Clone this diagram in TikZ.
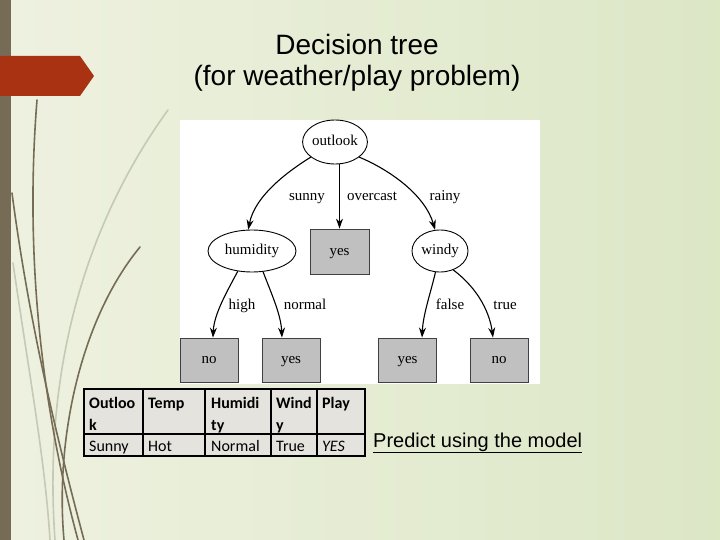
\documentclass[tikz,border=0pt]{standalone}
\usepackage{fontspec}
\setmainfont{Liberation Sans}
\newfontfamily\treefont{Liberation Serif}
\newfontfamily\tabfont{Carlito}
\usetikzlibrary{shapes.geometric,arrows.meta}
\definecolor{barcol}{RGB}{118,108,85}
\definecolor{redcol}{RGB}{168,50,18}
\definecolor{bgL}{RGB}{238,241,224}
\definecolor{bgR}{RGB}{220,231,198}
\definecolor{grasslight}{RGB}{196,202,180}
\definecolor{leafgray}{RGB}{192,192,192}
\definecolor{cellgray}{RGB}{229,227,221}
\tikzset{
  treetext/.style={font=\treefont\fontsize{15}{18}\selectfont,text height=10pt,text depth=3pt},
  inner/.style={ellipse,draw=black,line width=0.9pt,fill=white,inner sep=0pt,treetext},
  leaf/.style={rectangle,draw=black!75,line width=0.8pt,fill=leafgray,inner sep=0pt,minimum width=58pt,minimum height=44pt,treetext},
  lbl/.style={inner sep=0pt,treetext},
  edge/.style={draw=black,line width=1.1pt,-{Stealth[length=10pt,width=7pt]}},
  grassdark/.style={draw=barcol,line width=1.6pt,line cap=round},
  grasslt/.style={draw=grasslight,line width=1.6pt,line cap=round},
  hdr/.style={anchor=base west,inner sep=0pt,font=\tabfont\bfseries\fontsize{16}{22}\selectfont},
  cell/.style={anchor=base west,inner sep=0pt,font=\tabfont\fontsize{16}{18}\selectfont},
  title/.style={inner sep=0pt,font=\fontsize{28}{32}\selectfont}
}
\begin{document}
\begin{tikzpicture}[x=1pt,y=-1pt]
\useasboundingbox (0,0) rectangle (720,540);
% background
\shade[left color=bgL,right color=bgR] (0,0) rectangle (720,540);
\fill[barcol] (0,0) rectangle (11,540);
% grass
\draw[grasslt] (168,110) .. controls (110,190) and (40,330) .. (55,540);
\draw[grasslt] (13,263) .. controls (30,380) and (45,460) .. (50,540);
\draw[grassdark] (37,100) .. controls (25,250) and (40,400) .. (78,540);
\draw[grassdark] (12,193) .. controls (30,330) and (60,450) .. (84,540);
\draw[grassdark] (140,247) .. controls (80,320) and (55,440) .. (64,540);
% red arrow
\fill[redcol] (0,56) -- (80,56) -- (94,76) -- (80,96) -- (0,96) -- cycle;
% title
\node[title] (t1) at (357,44) {Decision tree};
\node[title] (t2) at (357,78) {(for weather/play problem)};
% tree picture
\fill[white] (180,120) rectangle (540,384);
\node[inner,minimum width=62pt,minimum height=44pt] (o) at (335,142) {outlook};
\node[inner,minimum width=88pt,minimum height=42pt] (h) at (252,251) {humidity};
\node[inner,minimum width=56pt,minimum height=42pt] (w) at (440,251) {windy};
\node[leaf,minimum width=59pt,minimum height=45pt] (y1) at (339.5,251.5) {yes};
\node[leaf] (n1) at (209,360) {no};
\node[leaf] (y2) at (291,360) {yes};
\node[leaf] (y3) at (407.5,360) {yes};
\node[leaf] (n2) at (499,360) {no};
\node[lbl] (lsunny) at (307,197) {sunny};
\node[lbl] (lover) at (372,197) {overcast};
\node[lbl] (lrainy) at (445,197) {rainy};
\node[lbl] (lhigh) at (242,306) {high};
\node[lbl] (lnormal) at (305,306) {normal};
\node[lbl] (lfalse) at (450,306) {false};
\node[lbl] (ltrue) at (505,306) {true};
\draw[edge] (o.212) .. controls (290,170) and (255,195) .. (h.100);
\draw[edge] (y1.north |- o.south) -- (y1.north);
\draw[edge] (o.328) .. controls (390,170) and (425,195) .. (w.103);
\draw[edge] (h.235) .. controls (225,295) and (214,315) .. (n1.80);
\draw[edge] (h.298) .. controls (272,295) and (281,315) .. (y2.112);
\draw[edge] (w.258) .. controls (430,295) and (423,315) .. (y3.57);
\draw[edge] (w.305) .. controls (480,290) and (490,315) .. (n2.105);
% table
\fill[cellgray] (84,389) rectangle (365,456);
\draw[black,line width=1.5pt] (84,434) -- (365,434);
\foreach \xx in {143,205,271,317} \draw[black,line width=1.5pt] (\xx,389) -- (\xx,456);
\draw[black,line width=2pt] (84,389) rectangle (365,456);
\node[hdr] (c1) at (89,408) {Outloo};
\node[hdr] (c1b) at (89,430) {k};
\node[hdr] (c2) at (148,408) {Temp};
\node[hdr] (c3) at (211,408) {Humidi};
\node[hdr] (c3b) at (211,430) {ty};
\node[hdr] (c4) at (276,408) {Wind};
\node[hdr] (c4b) at (276,430) {y};
\node[hdr] (c5) at (322,408) {Play};
\node[cell] (d1) at (89,451) {Sunny};
\node[cell] (d2) at (148,451) {Hot};
\node[cell] (d3) at (211,451) {Normal};
\node[cell] (d4) at (276,451) {True};
\node[cell] (d5) at (322,451) {\itshape YES};
\node[anchor=west,inner sep=0pt,font=\fontsize{20}{22}\selectfont,text height=14pt,text depth=4pt] (pred) at (373,442) {Predict using the model};
\draw[black,line width=1pt] ([yshift=-1pt]pred.south west) -- ([yshift=-1pt]pred.south east);
\end{tikzpicture}
\end{document}
